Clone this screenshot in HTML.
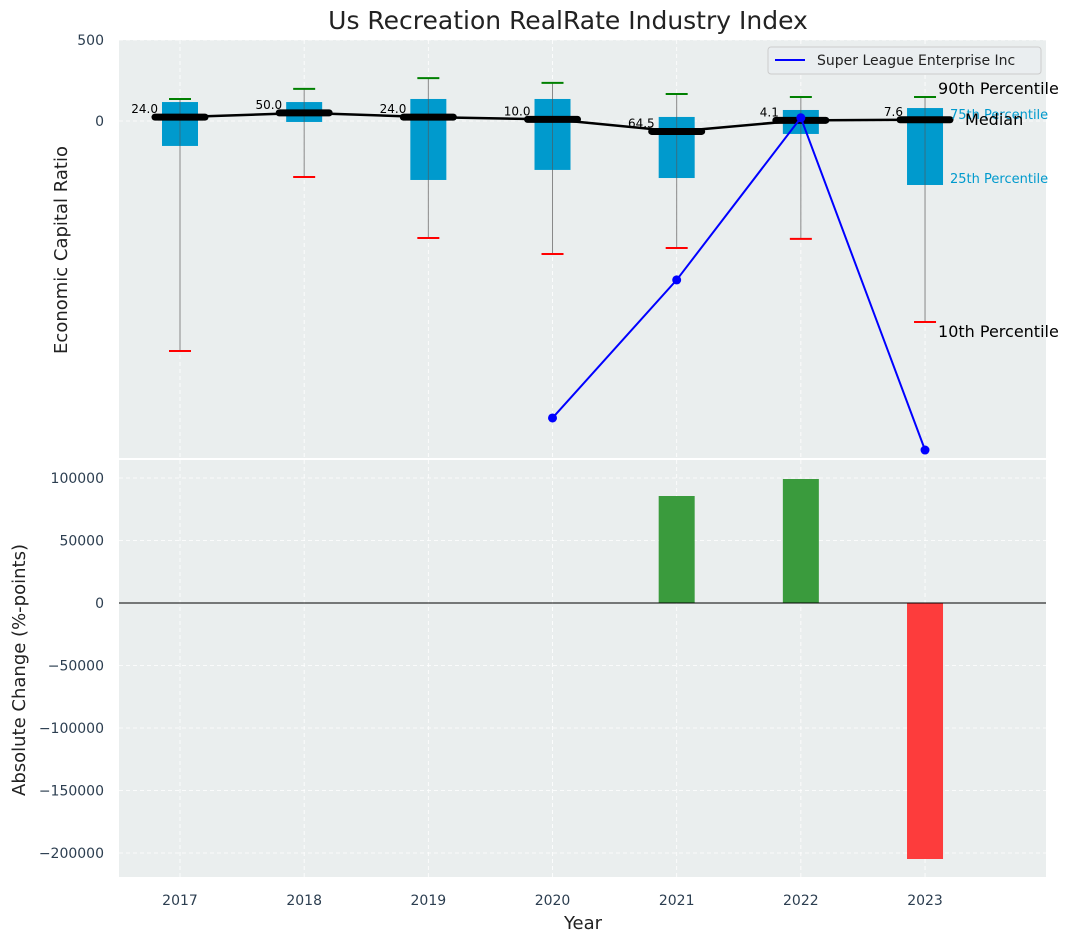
<!DOCTYPE html>
<html><head><meta charset="utf-8"><style>
body{margin:0;background:#fff;font-family:"Liberation Sans","DejaVu Sans",sans-serif}
svg text{font-family:"DejaVu Sans","Liberation Sans",sans-serif}
</style></head><body>
<svg id="c" width="1073" height="942"></svg>
<script>
const years=[2017,2018,2019,2020,2021,2022,2023];
const p10=[-1420,-346,-722,-821,-784,-728,-1241];
const p25=[-154,-6,-364,-302,-352,-80,-395];
const med=[24,50,24,10,-64.5,4.1,7.6];
const p75=[117,117,136,136,25,68,80];
const p90=[136,198,265,235,167,148,148];
const medLabels=["24.0","50.0","24.0","10.0","64.5","4.1","7.6"];
const compYears=[2020,2021,2022,2023];
const compVals=[-1833,-981,20,-2031];
const chgYears=[2021,2022,2023];
const chgVals=[85600,99200,-204800];
const bottomTicks=[100000,50000,0,-50000,-100000,-150000,-200000];

const S=document.getElementById('c');const NS='http://www.w3.org/2000/svg';
function el(t,a,txt){const e=document.createElementNS(NS,t);for(const k in a)e.setAttribute(k,a[k]);if(txt!=null)e.textContent=txt;S.appendChild(e);return e;}
const L=119,R=1046;
const x=yr=>180+(yr-2017)*124.17;
const yT=v=>121-v*0.162;
const yB=v=>603-v*0.00125;
let e=el('rect',{x:L,y:40,width:R-L,height:418,fill:'#eaeeee'});
e=el('rect',{x:L,y:460,width:R-L,height:417,fill:'#eaeeee'});
years.forEach(yr=>{el('line',{x1:x(yr),x2:x(yr),y1:40,y2:458,stroke:'#fff','stroke-dasharray':'4,3','stroke-width':0.8});el('line',{x1:x(yr),x2:x(yr),y1:460,y2:877,stroke:'#fff','stroke-dasharray':'4,3','stroke-width':0.8});});
[500,0].forEach(v=>{el('line',{x1:L,x2:R,y1:yT(v),y2:yT(v),stroke:'#fff','stroke-dasharray':'4,3','stroke-width':0.8});
e=el('text',{x:104,y:yT(v)+5,'text-anchor':'end','font-size':14,fill:'#2c3e50'},String(v));});
bottomTicks.forEach(v=>{el('line',{x1:L,x2:R,y1:yB(v),y2:yB(v),stroke:'#fff','stroke-dasharray':'4,3','stroke-width':0.8});
e=el('text',{x:104,y:yB(v)+5,'text-anchor':'end','font-size':14,fill:'#2c3e50'},(v<0?'\u2212':'')+Math.abs(v));});
years.forEach((yr,i)=>{const cx=x(yr);
el('line',{x1:cx,x2:cx,y1:yT(p90[i]),y2:yT(p10[i]),stroke:'#888','stroke-width':1});
e=el('rect',{x:cx-18,y:yT(p75[i]),width:36,height:yT(p25[i])-yT(p75[i]),fill:'#009acd'});
el('line',{x1:cx,x2:cx,y1:yT(p75[i]),y2:yT(p25[i]),stroke:'#555','stroke-width':1,opacity:0.6});
el('line',{x1:cx-11,x2:cx+11,y1:yT(p90[i]),y2:yT(p90[i]),stroke:'green','stroke-width':2});
el('line',{x1:cx-11,x2:cx+11,y1:yT(p10[i]),y2:yT(p10[i]),stroke:'red','stroke-width':2});
});
e=el('polyline',{points:years.map((yr,i)=>x(yr)+','+yT(med[i])).join(' '),fill:'none',stroke:'#000','stroke-width':2.5});
years.forEach((yr,i)=>{const cx=x(yr);
el('line',{x1:cx-25,x2:cx+25,y1:yT(med[i]),y2:yT(med[i]),stroke:'#000','stroke-width':7,'stroke-linecap':'round'});
e=el('text',{x:cx-22,y:yT(med[i])-4,'text-anchor':'end','font-size':12,fill:'#000'},medLabels[i]);});
e=el('polyline',{points:compYears.map((yr,i)=>x(yr)+','+yT(compVals[i])).join(' '),fill:'none',stroke:'blue','stroke-width':2});
compYears.forEach((yr,i)=>{e=el('circle',{cx:x(yr),cy:yT(compVals[i]),r:4.5,fill:'blue'});});
const lx=x(2023)+13;
el('text',{x:lx,y:94,'font-size':16,fill:'#000'},'90th Percentile');
el('text',{x:lx+12,y:119,'font-size':13,fill:'#009acd'},'75th Percentile');
el('text',{x:lx+27,y:125,'font-size':16,fill:'#000'},'Median');
el('text',{x:lx+12,y:183,'font-size':13,fill:'#009acd'},'25th Percentile');
el('text',{x:lx,y:337,'font-size':16,fill:'#000'},'10th Percentile');
e=el('rect',{x:768,y:47,width:273,height:27,fill:'#eaeef0',stroke:'#ccc',rx:3});
el('line',{x1:775,x2:805,y1:60,y2:60,stroke:'blue','stroke-width':2});
e=el('text',{x:817,y:65,'font-size':14,fill:'#222'},'Super League Enterprise Inc');
chgYears.forEach((yr,i)=>{const v=chgVals[i];const y0=yB(Math.max(v,0)),y1=yB(Math.min(v,0));
e=el('rect',{x:x(yr)-18,y:y0,width:36,height:y1-y0,fill:v>=0?'#3a9b3d':'#fd3c3c'});});
el('line',{x1:L,x2:R,y1:yB(0),y2:yB(0),stroke:'#000','stroke-width':1});
years.forEach(yr=>{e=el('text',{x:x(yr),y:905,'text-anchor':'middle','font-size':14,fill:'#2c3e50'},String(yr));});
e=el('text',{x:568,y:29,'text-anchor':'middle','font-size':25,fill:'#222'},'Us Recreation RealRate Industry Index');
e=el('text',{x:583,y:929,'text-anchor':'middle','font-size':18,fill:'#222'},'Year');
e=el('text',{x:0,y:0,'text-anchor':'middle','font-size':18,fill:'#222',transform:'translate(67,250) rotate(-90)'},'Economic Capital Ratio');
e=el('text',{x:0,y:0,'text-anchor':'middle','font-size':18,fill:'#222',transform:'translate(25,670) rotate(-90)'},'Absolute Change (%-points)');
</script></body></html>
